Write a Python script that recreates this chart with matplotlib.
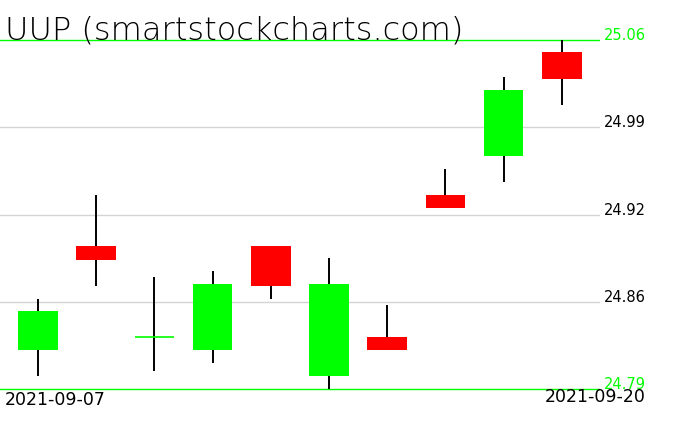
import matplotlib
matplotlib.use("Agg")
import matplotlib.pyplot as plt

# daily candles for UUP
dates = ["2021-09-07", "2021-09-08", "2021-09-09", "2021-09-10", "2021-09-13",
         "2021-09-14", "2021-09-15", "2021-09-16", "2021-09-17", "2021-09-20"]
opens = [24.820, 24.901, 24.830, 24.820, 24.901, 24.800, 24.830, 24.940, 24.970, 25.051]
highs = [24.860, 24.940, 24.877, 24.881, 24.901, 24.891, 24.855, 24.960, 25.031, 25.060]
lows = [24.800, 24.870, 24.804, 24.810, 24.860, 24.790, 24.820, 24.930, 24.950, 25.010]
closes = [24.850, 24.890, 24.830, 24.871, 24.870, 24.871, 24.820, 24.930, 25.021, 25.030]

y_min, y_max = 24.79, 25.06
level_labels = ["24.79", "24.86", "24.92", "24.99", "25.06"]

GREEN = "#00ff00"
RED = "#ff0000"

W, H = 676, 431
fig = plt.figure(figsize=(W / 100, H / 100), dpi=100)

# axes: x 0..600 px, y 30..400 px
ppu = (390 - 41) / (y_max - y_min)
top_px, bot_px = 30, 400
ax = fig.add_axes([0, (H - bot_px) / H, 600 / W, (bot_px - top_px) / H])
ax.set_ylim(y_min - (bot_px - 390) / ppu, y_max + (41 - top_px) / ppu)
step = 58.2
ax.set_xlim(-38 / step, (600 - 38) / step)
ax.axis("off")

levels = [y_min + k * (y_max - y_min) / 4 for k in range(5)]
for k, lv in enumerate(levels):
    edge = k in (0, 4)
    ax.axhline(lv, color=GREEN if edge else "#d3d3d3", lw=1.0, zorder=1)
    fig.text(604 / W, 1 - (390 - (lv - y_min) * ppu) / H + 1 / H, level_labels[k],
             color=GREEN if edge else "black", fontsize=10.5, ha="left", va="baseline")

xs = list(range(len(dates)))
ax.vlines(xs, lows, highs, color="black", lw=1.4, zorder=2)
for x, o, c in zip(xs, opens, closes):
    col = GREEN if c >= o else RED
    if abs(c - o) < 1e-4:
        ax.hlines(o, x - 0.34, x + 0.34, color=GREEN, lw=1.2, zorder=3)
    else:
        ax.bar(x, c - o, bottom=o, width=0.68, color=col, zorder=3)

fig.text(5 / W, 1 - 39 / H, "UUP (smartstockcharts.com)", fontsize=23,
         fontweight="light", color="black", ha="left", va="baseline")
fig.text(5 / W, 1 - 405 / H, dates[0], fontsize=12.5, ha="left", va="baseline")
fig.text(646 / W, 1 - 402 / H, dates[-1], fontsize=12.5, ha="right", va="baseline")

fig.savefig("out.png", dpi=100)
